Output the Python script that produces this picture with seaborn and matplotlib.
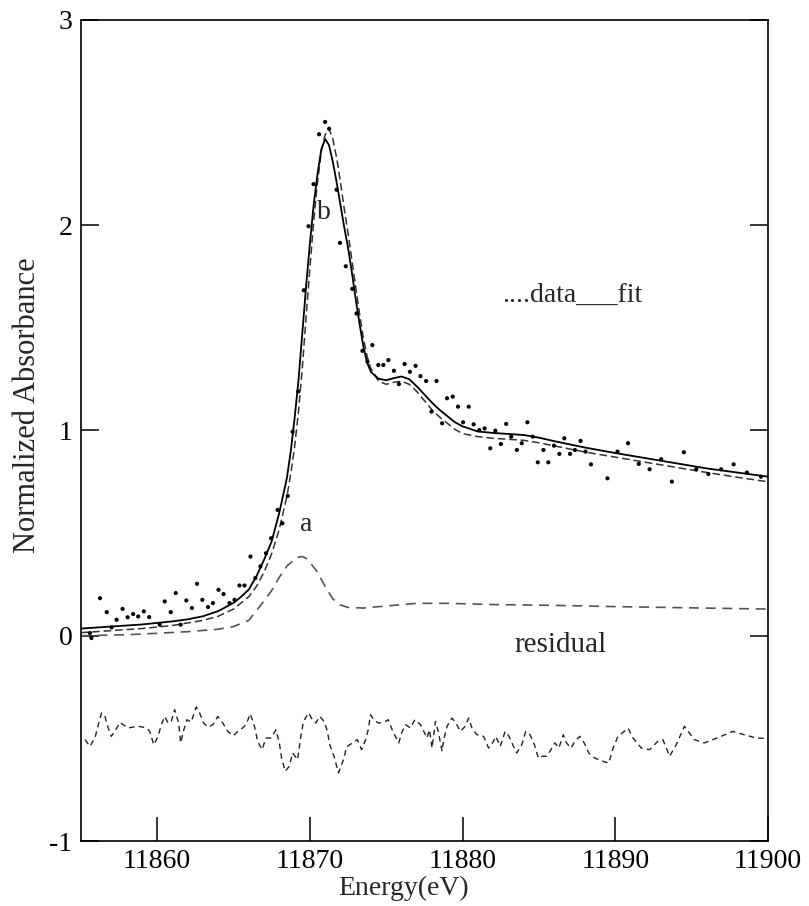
import numpy as np
import pandas as pd
import matplotlib
matplotlib.use("Agg")
import matplotlib.pyplot as plt
import seaborn as sns

# ---------------- data ----------------
data_E = [11855.6, 11855.7, 11856.26, 11856.7, 11857.02, 11857.35, 11857.74, 11858.07, 11858.43,
          11858.76, 11859.13, 11859.48, 11860.17, 11860.5, 11860.89, 11861.22, 11861.54, 11861.91,
          11862.28, 11862.61, 11862.96, 11863.33, 11863.65, 11864.02, 11864.35, 11864.74, 11865.07,
          11865.39, 11865.72, 11866.11, 11866.43, 11866.76, 11867.13, 11867.46, 11867.89, 11868.2,
          11868.55, 11868.87, 11869.24, 11869.6, 11869.91, 11870.24, 11870.6, 11871.0, 11871.26,
          11871.74, 11871.97, 11872.35, 11872.78, 11873.05, 11873.44, 11873.77, 11874.09, 11874.48,
          11874.81, 11875.14, 11875.5, 11875.83, 11876.2, 11876.55, 11876.92, 11877.24, 11877.61,
          11877.96, 11878.29, 11878.66, 11878.98, 11879.35, 11879.7, 11880.03, 11880.4, 11880.72,
          11881.09, 11881.44, 11881.81, 11882.14, 11882.5, 11882.85, 11883.18, 11883.55, 11883.87,
          11884.24, 11884.59, 11884.92, 11885.29, 11885.61, 11885.98, 11886.33, 11886.66, 11887.03,
          11887.35, 11887.72, 11888.05, 11888.4, 11889.48, 11890.14, 11890.83, 11891.53, 11892.24,
          11893.0, 11893.7, 11894.48, 11895.29, 11896.09, 11896.92, 11897.74, 11898.61, 11899.53]
data_A = [0.013, -0.011, 0.183, 0.115, 0.041, 0.078, 0.131, 0.09, 0.106,
          0.094, 0.119, 0.091, 0.054, 0.167, 0.115, 0.208, 0.054, 0.172,
          0.135, 0.253, 0.175, 0.14, 0.159, 0.224, 0.203, 0.159, 0.175,
          0.245, 0.245, 0.386, 0.281, 0.338, 0.402, 0.475, 0.613, 0.548,
          0.681, 0.994, 1.19, 1.683, 1.995, 2.2, 2.443, 2.503, 2.47,
          2.173, 1.914, 1.80, 1.69, 1.57, 1.388, 1.335, 1.416, 1.319,
          1.319, 1.343, 1.291, 1.226, 1.324, 1.286, 1.315, 1.265, 1.241,
          1.092, 1.241, 1.035, 1.157, 1.165, 1.116, 1.04, 1.116, 1.03,
          1.002, 1.01, 0.913, 0.999, 0.934, 1.032, 0.97, 0.905, 0.938,
          1.04, 0.97, 0.845, 0.905, 0.845, 0.926, 0.886, 0.962, 0.886,
          0.905, 0.949, 0.897, 0.835, 0.767, 0.897, 0.938, 0.837, 0.811,
          0.86, 0.751, 0.894, 0.811, 0.788, 0.811, 0.835, 0.795, 0.775]

fit_E = [11855, 11857, 11859, 11861, 11862, 11863, 11864, 11865, 11865.5, 11866, 11866.5, 11867,
         11867.5, 11868, 11868.5, 11868.75, 11869, 11869.25, 11869.5, 11869.75, 11870, 11870.25,
         11870.5, 11870.75, 11871, 11871.25, 11871.5, 11871.75, 11872, 11872.25, 11872.5, 11872.75,
         11873, 11873.25, 11873.5, 11873.75, 11874, 11874.5, 11875, 11875.5, 11876, 11876.5, 11877,
         11877.5, 11878, 11878.5, 11879, 11879.5, 11880, 11881, 11882, 11883, 11884, 11885, 11886,
         11888, 11890, 11892, 11894, 11896, 11898, 11900]
fit_A = [0.035, 0.045, 0.055, 0.07, 0.08, 0.095, 0.12, 0.16, 0.19, 0.225, 0.29, 0.37,
         0.46, 0.60, 0.77, 0.90, 1.06, 1.24, 1.47, 1.70, 1.91, 2.10,
         2.25, 2.37, 2.42, 2.39, 2.31, 2.21, 2.10, 1.99, 1.89, 1.77,
         1.64, 1.52, 1.41, 1.33, 1.285, 1.252, 1.245, 1.255, 1.263, 1.25, 1.215,
         1.175, 1.135, 1.10, 1.07, 1.04, 1.02, 0.995, 0.988, 0.983, 0.978, 0.965, 0.948,
         0.917, 0.89, 0.865, 0.84, 0.815, 0.795, 0.775]

compb_E = [11855, 11857, 11859, 11861, 11863, 11864, 11865, 11866, 11866.5, 11867, 11867.5, 11868,
           11868.5, 11868.75, 11869, 11869.25, 11869.5, 11869.75, 11870, 11870.25, 11870.5,
           11870.75, 11871, 11871.25, 11871.5, 11871.75, 11872, 11872.25, 11872.5, 11872.75,
           11873, 11873.25, 11873.5, 11873.75, 11874, 11874.5, 11875, 11875.5, 11876, 11876.5,
           11877, 11877.5, 11878, 11878.5, 11879, 11879.5, 11880, 11881, 11882, 11883, 11884,
           11885, 11886, 11888, 11890, 11892, 11894, 11896, 11898, 11900]
compb_A = [0.015, 0.025, 0.035, 0.05, 0.075, 0.095, 0.13, 0.19, 0.24, 0.31, 0.40, 0.52,
           0.68, 0.79, 0.92, 1.09, 1.30, 1.55, 1.79, 2.02, 2.21,
           2.36, 2.44, 2.47, 2.42, 2.33, 2.21, 2.08, 1.96, 1.83,
           1.70, 1.57, 1.45, 1.36, 1.30, 1.24, 1.225, 1.235, 1.24, 1.225,
           1.19, 1.145, 1.10, 1.065, 1.035, 1.005, 0.985, 0.97, 0.962, 0.957, 0.952,
           0.94, 0.925, 0.895, 0.87, 0.845, 0.82, 0.795, 0.772, 0.75]

compa_E = [11855, 11858, 11860, 11862, 11864, 11865, 11866, 11867, 11867.5, 11868, 11868.5, 11869,
           11869.25, 11869.5, 11869.75, 11870, 11870.5, 11871, 11871.5, 11872, 11872.5, 11873.5,
           11875, 11877, 11879, 11882, 11886, 11890, 11895, 11900]
compa_A = [0.0, 0.005, 0.012, 0.02, 0.032, 0.045, 0.075, 0.17, 0.22, 0.285, 0.34, 0.372,
           0.383, 0.386, 0.378, 0.358, 0.31, 0.24, 0.18, 0.15, 0.138, 0.135,
           0.145, 0.158, 0.158, 0.152, 0.148, 0.142, 0.136, 0.13]

resid_E = [11855.28, 11855.6, 11855.93, 11856.15, 11856.36, 11856.58, 11856.8, 11857.0, 11857.23,
           11857.56, 11857.78, 11858.1, 11858.43, 11858.75, 11859.08, 11859.3, 11859.52, 11859.78,
           11860.06, 11860.28, 11860.5, 11860.71, 11860.93, 11861.15, 11861.41, 11861.54, 11861.75,
           11861.95, 11862.23, 11862.56, 11862.78, 11863.04, 11863.32, 11863.65, 11863.97, 11864.3,
           11864.62, 11865.0, 11865.28, 11865.6, 11865.82, 11866.1, 11866.37, 11866.58, 11866.87,
           11867.13, 11867.45, 11867.78, 11868.0, 11868.15, 11868.39, 11868.65, 11868.87, 11869.19,
           11869.41, 11869.58, 11869.91, 11870.17, 11870.39, 11870.65, 11870.93, 11871.15, 11871.3,
           11871.58, 11871.87, 11872.24, 11872.39, 11872.78, 11873.1, 11873.39, 11873.65, 11873.82,
           11873.97, 11874.19, 11874.47, 11874.84, 11875.13, 11875.43, 11875.82, 11876.0, 11876.26,
           11876.58, 11876.87, 11877.24, 11877.67, 11877.83, 11878.0, 11878.22, 11878.43, 11878.65,
           11878.76, 11878.98, 11879.3, 11879.56, 11879.85, 11880.17, 11880.39, 11880.61, 11880.93,
           11881.37, 11881.7, 11881.96, 11882.17, 11882.46, 11882.78, 11883.04, 11883.33, 11883.54,
           11883.87, 11884.13, 11884.41, 11884.7, 11884.96, 11885.22, 11885.5, 11885.78, 11886.04,
           11886.3, 11886.59, 11886.8, 11887.09, 11887.35, 11887.67, 11887.96, 11888.26, 11888.65,
           11889.2, 11889.57, 11889.85, 11890.17, 11890.83, 11891.15, 11891.7, 11892.24, 11892.78,
           11893.11, 11893.55, 11893.98, 11894.52, 11895.17, 11895.83, 11896.37, 11896.91, 11897.67,
           11898.43, 11899.2, 11899.9]
resid_A = [-0.506, -0.539, -0.498, -0.433, -0.376, -0.393, -0.449, -0.49, -0.466,
           -0.422, -0.433, -0.449, -0.445, -0.441, -0.445, -0.449, -0.466, -0.531,
           -0.49, -0.433, -0.393, -0.425, -0.417, -0.36, -0.425, -0.522, -0.458,
           -0.409, -0.42, -0.347, -0.376, -0.425, -0.445, -0.433, -0.393, -0.425,
           -0.466, -0.487, -0.466, -0.449, -0.433, -0.38, -0.441, -0.514, -0.555,
           -0.498, -0.498, -0.458, -0.522, -0.596, -0.66, -0.636, -0.571, -0.604,
           -0.49, -0.417, -0.376, -0.409, -0.425, -0.393, -0.417, -0.466, -0.531,
           -0.587, -0.668, -0.596, -0.542, -0.522, -0.506, -0.555, -0.506, -0.458,
           -0.385, -0.409, -0.425, -0.422, -0.409, -0.466, -0.522, -0.474, -0.433,
           -0.449, -0.409, -0.433, -0.498, -0.458, -0.547, -0.417, -0.474, -0.563,
           -0.506, -0.441, -0.401, -0.425, -0.466, -0.441, -0.401, -0.449, -0.482,
           -0.49, -0.547, -0.522, -0.49, -0.539, -0.466, -0.49, -0.539, -0.571,
           -0.531, -0.466, -0.482, -0.531, -0.596, -0.587, -0.587, -0.555, -0.522,
           -0.547, -0.482, -0.522, -0.547, -0.514, -0.49, -0.522, -0.571, -0.596,
           -0.612, -0.62, -0.547, -0.49, -0.45, -0.498, -0.547, -0.555, -0.514,
           -0.506, -0.587, -0.531, -0.441, -0.506, -0.522, -0.506, -0.49, -0.466,
           -0.482, -0.498, -0.50]

x_ticks = [11860, 11870, 11880, 11890, 11900]
y_ticks = [-1, 0, 1, 2, 3]

# ---------------- style ----------------
sns.set_style("ticks")
plt.rcParams['font.family'] = ['Liberation Serif', 'DejaVu Serif']

fig = plt.figure(figsize=(8.09, 9.06), dpi=100)
ax = fig.add_axes([0.0998, 0.0717, 0.9495 - 0.0998, 0.978 - 0.0717])

df_data = pd.DataFrame({"E": data_E, "A": data_A})
df_fit = pd.DataFrame({"E": fit_E, "A": fit_A})
df_b = pd.DataFrame({"E": compb_E, "A": compb_A})
df_a = pd.DataFrame({"E": compa_E, "A": compa_A})
df_r = pd.DataFrame({"E": resid_E, "A": resid_A})

sns.lineplot(data=df_b, x="E", y="A", ax=ax, color="#333333", linewidth=1.1,
             linestyle=(0, (5, 2.5)), estimator=None, sort=False)
sns.lineplot(data=df_fit, x="E", y="A", ax=ax, color="black", linewidth=1.3,
             estimator=None, sort=False)
sns.lineplot(data=df_a, x="E", y="A", ax=ax, color="#555555", linewidth=1.2,
             linestyle=(0, (6, 4)), estimator=None, sort=False)
sns.lineplot(data=df_r, x="E", y="A", ax=ax, color="#222222", linewidth=1.0,
             linestyle=(0, (4, 3)), estimator=None, sort=False)
sns.scatterplot(data=df_data, x="E", y="A", ax=ax, color="black", s=9,
                edgecolor="none", linewidth=0, zorder=5)

ax.set_xlim(11855, 11900)
ax.set_ylim(-1, 3)
ax.set_xticks(x_ticks)
ax.set_yticks(y_ticks)
ax.set_xticklabels([str(t) for t in x_ticks])
ax.set_yticklabels([str(t) for t in y_ticks])

for s in ax.spines.values():
    s.set_visible(True)
    s.set_linewidth(1.2)
    s.set_color("black")

ax.tick_params(axis="both", which="major", direction="in", width=1.1,
               labelsize=20, colors="black", pad=6)
ax.tick_params(axis="x", length=17, top=False, bottom=True)
ax.tick_params(axis="y", length=13, left=True, right=True)

ax.set_xlabel("Energy(eV)", fontsize=20, labelpad=2)
ax.xaxis.set_label_coords(0.47, -0.042)
ax.set_ylabel("Normalized Absorbance", fontsize=22, labelpad=10)
ax.yaxis.set_label_coords(-0.056, 0.531)

ax.text(11870.94, 2.06, "b", fontsize=20, ha="center", va="center")
ax.text(11869.77, 0.54, "a", fontsize=20, ha="center", va="center")
ax.text(11887.2, 1.66, "....data___fit", fontsize=20, ha="center", va="center")
ax.text(11886.4, -0.044, "residual", fontsize=21, ha="center", va="center")

fig.savefig("out.png", dpi=100)
